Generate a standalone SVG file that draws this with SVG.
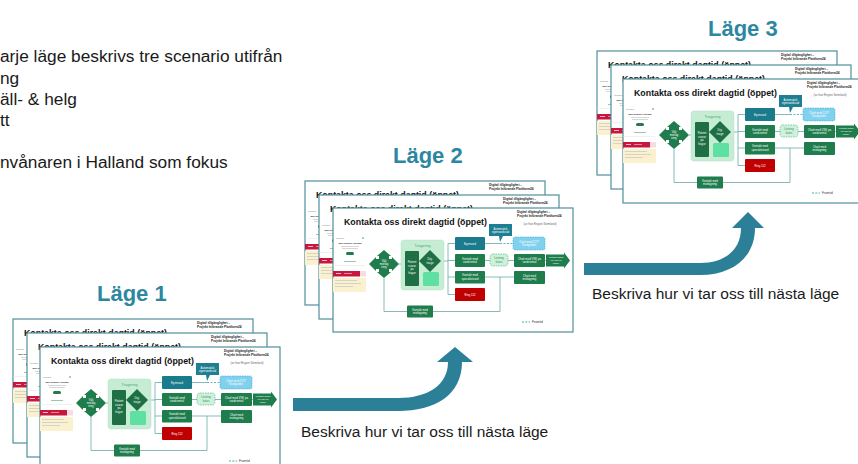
<svg xmlns="http://www.w3.org/2000/svg" width="858" height="464" viewBox="0 0 858 464">
<style>
.intro{font-family:"Liberation Sans",Arial,sans-serif;font-size:17.3px;fill:#1a1a1a}
.lage{font-family:"Liberation Sans",Arial,sans-serif;font-size:22px;font-weight:bold;fill:#2e87a0}
.cap{font-family:"Liberation Sans",Arial,sans-serif;font-size:15.5px;fill:#1a1a1a}
.big{fill:#2b7f96}
.frame{fill:#fff;stroke:#4f8f99;stroke-width:1.2}
.ttl{font-family:"Liberation Sans",Arial,sans-serif;font-size:9.5px;font-weight:bold;fill:#111}
.tiny{font-family:"Liberation Sans",Arial,sans-serif;font-size:2.8px;fill:#fff;text-anchor:middle}
.hdr{font-family:"Liberation Sans",Arial,sans-serif;font-size:3.2px;font-weight:bold;fill:#222}
.gr{fill:#1f7c4c}
.dg{fill:#1f6f45}
.ln{fill:none;stroke:#6aa8a8;stroke-width:0.8}
.dash{stroke-dasharray:2 1.5}
.gl{fill:#c4c4c4}
</style>
<defs>
<g id="slide">
  <rect class="frame" x="0" y="0" width="240" height="124"/>
  <text class="ttl" x="11" y="17" textLength="143" lengthAdjust="spacingAndGlyphs">Kontakta oss direkt dagtid (öppet)</text>
  <text class="hdr" x="184" y="5">Digital tillgänglighet –</text>
  <text class="hdr" x="184" y="8.5">Projekt Införande Plattform24</text>
  <text x="207" y="16.5" style="font-family:'Liberation Sans',Arial,sans-serif;font-size:2.8px;fill:#666;text-anchor:middle">(av från Region Sörmland)</text>
  <!-- left panel -->
  <text x="3" y="31" style="font-family:'Liberation Sans',Arial,sans-serif;font-size:2.4px;fill:#888">Tillbaka</text>
  <circle cx="30" cy="30" r="0.8" fill="#2a9a5a"/>
  <text x="17" y="36" style="font-family:'Liberation Sans',Arial,sans-serif;font-size:2.5px;font-weight:bold;fill:#333;text-anchor:middle">Min Region Halland</text>
  <rect class="gl" x="8" y="38" width="18" height="0.7"/>
  <rect class="gl" x="9" y="40" width="16" height="0.7"/>
  <rect x="13" y="44" width="8" height="3" rx="1.5" fill="#1f7c4c"/>
  <rect x="11" y="53" width="12" height="0.8" fill="#7bbf95"/>
  <rect x="0" y="57" width="32" height="0.5" fill="#e2e2e2"/>
  <rect x="0" y="63" width="27" height="5.5" fill="#c8163c"/>
  <rect x="27" y="63" width="6" height="5.5" fill="#f6dde3"/>
  <rect x="3" y="65" width="5" height="0.7" fill="#fff"/>
  <rect x="11" y="65" width="8" height="0.7" fill="#f2b8c4"/>
  <rect x="0" y="70" width="33" height="14" fill="#fbf1cf"/>
  <rect class="gl" x="2" y="72" width="22" height="0.7"/>
  <rect class="gl" x="2" y="75" width="26" height="0.7"/>
  <rect class="gl" x="2" y="78" width="18" height="0.7"/>
  <!-- connectors -->
  <g class="ln">
    <path d="M66,56 H68"/>
    <path d="M108,53 H115"/>
    <path d="M115,35.5 V86.5 M115,35.5 H122 M115,52.5 H122 M115,69 H122 M115,86.5 H122"/>
    <path d="M152,35.5 H167"/>
    <path class="dash" d="M167,35.5 H180" stroke="#3aa0b0"/>
    <path d="M152,52.5 H157 M175,52.5 H181 M212,52.5 H213"/>
    <path d="M152,69 H181 M167,69 V103.5 H51 V70"/>
  </g>
  <!-- cross -->
  <path class="gr" transform="translate(51,56)" d="M0,-14 L7,-8 L5,-8 L5,-5 L8,-5 L8,-7 L15,0 L8,7 L8,5 L5,5 L5,8 L7,8 L0,14 L-7,8 L-5,8 L-5,5 L-8,5 L-8,7 L-15,0 L-8,-7 L-8,-5 L-5,-5 L-5,-8 L-7,-8 Z"/>
  <text class="tiny" x="51" y="54">Välj</text>
  <text class="tiny" x="51" y="57">mottag</text>
  <text class="tiny" x="51" y="60">ning</text>
  <!-- triage -->
  <rect x="68" y="32" width="43" height="50" rx="3" fill="#c6ecd4" stroke="#b2e2c6" stroke-width="0.5"/>
  <text x="89.5" y="38.5" style="font-family:'Liberation Sans',Arial,sans-serif;font-size:3.6px;fill:#4aa877;text-anchor:middle">Triagering</text>
  <rect class="dg" x="72" y="43" width="14" height="35" rx="1"/>
  <text class="tiny" x="79" y="55">Patient</text>
  <text class="tiny" x="79" y="58.5">svarar</text>
  <text class="tiny" x="79" y="62">på</text>
  <text class="tiny" x="79" y="65.5">frågor</text>
  <rect x="90" y="64" width="16" height="14" rx="1.5" fill="#5fe0a3"/>
  <path class="dg" d="M97,42 L108,53 L97,64 L86,53 Z"/>
  <text class="tiny" x="97" y="52">Dig.</text>
  <text class="tiny" x="97" y="55.5">triage</text>
  <!-- boxes -->
  <rect x="122" y="29" width="30" height="13" rx="1" fill="#1a7b8c"/>
  <text class="tiny" x="137" y="36.5">Egenvård</text>
  <rect class="gr" x="122" y="46" width="30" height="13" rx="1"/>
  <text class="tiny" x="137" y="51.8">Kontakt med</text>
  <text class="tiny" x="137" y="55">vårdcentral</text>
  <rect class="gr" x="122" y="63" width="30" height="12.5" rx="1"/>
  <text class="tiny" x="137" y="68.4">Kontakt med</text>
  <text class="tiny" x="137" y="71.6">specialistvård</text>
  <rect x="122" y="80" width="30" height="13" rx="1" fill="#c00000"/>
  <text class="tiny" x="137" y="87.5">Ring 112</text>
  <path d="M156,16 H179 V28 H170 L167,34 L166,28 H156 Z" fill="#1e7f93"/>
  <text class="tiny" x="167.5" y="21.5">Automatisk</text>
  <text class="tiny" x="167.5" y="24.7">egenvårdsråd</text>
  <rect x="180" y="29" width="32" height="13" rx="2" fill="#7fd1ee" stroke="#39a9d6" stroke-width="0.6" stroke-dasharray="1.5 1"/>
  <text class="tiny" x="196" y="34.8">Chatt med 1177</text>
  <text class="tiny" x="196" y="38">Vårdguiden</text>
  <rect x="157" y="46" width="18" height="12" rx="3" fill="#cdf1da" stroke="#41b070" stroke-width="0.6" stroke-dasharray="1.5 1"/>
  <text class="tiny" x="166" y="51.3" style="fill:#3a8a5a">Listning</text>
  <text class="tiny" x="166" y="54.5" style="fill:#3a8a5a">krävs</text>
  <rect class="gr" x="181" y="46" width="31" height="13" rx="1"/>
  <text class="tiny" x="196.5" y="51.8">Chatt med VSK på</text>
  <text class="tiny" x="196.5" y="55">vårdcentral</text>
  <path class="gr" d="M213,46.5 H231 V44.5 L237,52.5 L231,60.5 V58.5 H213 Z"/>
  <text class="tiny" x="223" y="50.3" style="font-size:2.3px">Kontakt bokas</text>
  <text class="tiny" x="223" y="53" style="font-size:2.3px">via VSK till</text>
  <text class="tiny" x="223" y="55.7" style="font-size:2.3px">läkare</text>
  <rect class="gr" x="181" y="63" width="31" height="13" rx="1"/>
  <text class="tiny" x="196.5" y="68.8">Chatt med</text>
  <text class="tiny" x="196.5" y="72">mottagning</text>
  <rect class="gr" x="74" y="97.5" width="26" height="12" rx="1"/>
  <text class="tiny" x="87" y="102.8">Kontakt med</text>
  <text class="tiny" x="87" y="106">mottagning</text>
  <path d="M189,114 H197" stroke="#3aa0b0" stroke-width="0.9" stroke-dasharray="2 1.3"/>
  <text x="199" y="115.2" style="font-family:'Liberation Sans',Arial,sans-serif;font-size:3.2px;fill:#333">Framtid</text>
</g>
</defs>

<g id="intro">
  <text class="intro" x="0" y="62">arje läge beskrivs tre scenario utifrån</text>
  <text class="intro" x="0" y="84">ng</text>
  <text class="intro" x="0" y="105">äll- &amp; helg</text>
  <text class="intro" x="0" y="126">tt</text>
  <text class="intro" x="0" y="168">nvånaren i Halland som fokus</text>
</g>

<g id="lage1">
  <text class="lage" x="97" y="301">Läge 1</text>
  <use href="#slide" x="13" y="319"/>
  <use href="#slide" x="27" y="333"/>
  <use href="#slide" x="40" y="347"/>
</g>

<g id="lage2">
  <text class="lage" x="393" y="163">Läge 2</text>
  <use href="#slide" x="305" y="181"/>
  <use href="#slide" x="319" y="195"/>
  <use href="#slide" x="333" y="208"/>
</g>

<g id="lage3">
  <text class="lage" x="708" y="36">Läge 3</text>
  <use href="#slide" x="597" y="51"/>
  <use href="#slide" x="611" y="65"/>
  <use href="#slide" x="623" y="79"/>
</g>

<g id="connectors">
  <path class="big" d="M293,398 L398,398 C428,398 448,385 448,362 L437,362 L455,347 L473,362 L462,362 C462,395 435,411 398,411 L293,411 Z"/>
  <path class="big" d="M584,263 L700,263 C725,263 741,250 741,228 L732,228 L748,212 L764,228 L755,228 C755,258 732,275 700,275 L584,275 Z"/>
  <text class="cap" x="301" y="437">Beskriva hur vi tar oss till nästa läge</text>
  <text class="cap" x="592" y="299">Beskriva hur vi tar oss till nästa läge</text>
</g>
</svg>
